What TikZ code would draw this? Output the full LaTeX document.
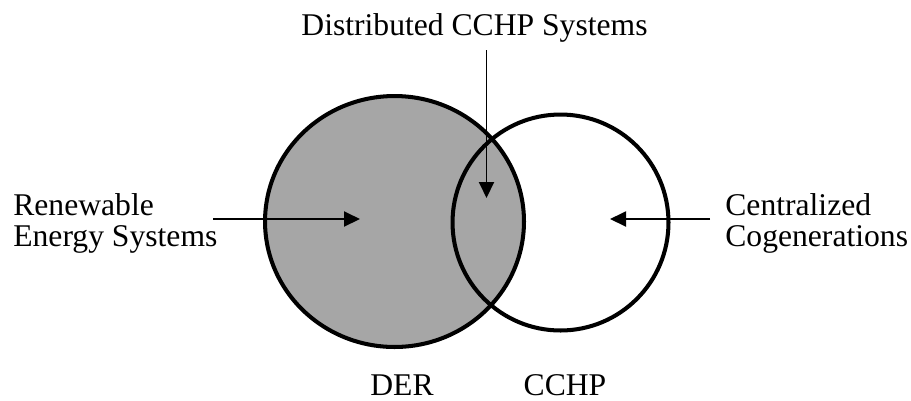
\documentclass[tikz,border=0pt]{standalone}
\usepackage{fontspec}
\setmainfont{Liberation Serif}
\usetikzlibrary{arrows.meta}
\begin{document}
\begin{tikzpicture}[x=0.02cm,y=-0.02cm,
  every node/.style={font=\fontsize{18}{17.6}\selectfont, inner sep=0pt},
  setline/.style={line width=2.3pt},
  pointer/.style={line width=1.1pt,-{Triangle[length=0.32cm,width=0.3cm]}}]
\useasboundingbox (0,0) rectangle (911,400);

\coordinate (der) at (394.5,221.5);
\coordinate (cchp) at (560.5,222.5);

\filldraw[setline,fill=black!35] (der) ellipse[x radius=2.59cm,y radius=2.51cm];
\draw[setline] (cchp) circle(2.16cm);

\node[anchor=base] (dist) at (474.5,35) {Distributed CCHP Systems};
\node[anchor=base west,align=left] (renew) at (13,246) {Renewable\\Energy Systems};
\node[anchor=base west,align=left] (central) at (725,246) {Centralized\\Cogenerations};
\node[anchor=base] (derlabel) at (402,395) {DER};
\node[anchor=base] (cchplabel) at (565,395) {CCHP};

\coordinate (disttail) at (486.5,50);
\coordinate (disttip) at (486.5,198);
\coordinate (renewtail) at (213,219);
\coordinate (renewtip) at (360,219);
\coordinate (centraltail) at (710,219);
\coordinate (centraltip) at (610,219);

\draw[pointer] (disttail) -- (disttip);
\draw[pointer] (renewtail) -- (renewtip);
\draw[pointer] (centraltail) -- (centraltip);
\end{tikzpicture}
\end{document}
